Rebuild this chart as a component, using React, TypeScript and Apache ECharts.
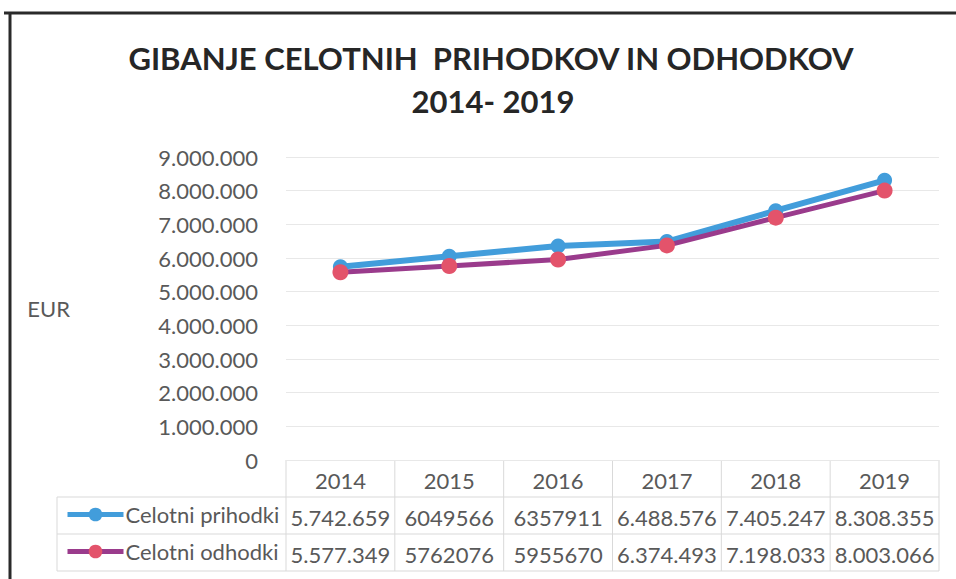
import React, { useEffect, useRef } from "react";
import * as echarts from "echarts";

const years = ["2014", "2015", "2016", "2017", "2018", "2019"];
const prihodki = [5742659, 6049566, 6357911, 6488576, 7405247, 8308355];
const odhodki = [5577349, 5762076, 5955670, 6374493, 7198033, 8003066];
const prihodkiText = ["5.742.659", "6049566", "6357911", "6.488.576", "7.405.247", "8.308.355"];
const odhodkiText = ["5.577.349", "5762076", "5955670", "6.374.493", "7.198.033", "8.003.066"];
const seriesNames = ["Celotni prihodki", "Celotni odhodki"];
const titleLines = ["GIBANJE CELOTNIH  PRIHODKOV IN ODHODKOV", "2014- 2019"];
const yAxisName = "EUR";

const W = 956;
const H = 579;
const GL = 286;
const GR = 939;
const GT = 157;
const GB = 460;
const ROW = 37;
const LEGL = 57;
const FONT = "Lato, 'Open Sans', sans-serif";
const TXT = "#595959";
const BORDER = "#d9d9d9";
const FS = 22;

function fmt(v: number): string {
  return String(Math.round(v)).replace(/\B(?=(\d{3})+(?!\d))/g, ".");
}

export default function App() {
  const ref = useRef<HTMLDivElement>(null);
  useEffect(() => {
    if (!ref.current) return;
    const chart = echarts.init(ref.current, undefined, { renderer: "svg" });
    const colW = (GR - GL) / years.length;
    const lines: any[] = [];
    const ln = (x1: number, y1: number, x2: number, y2: number) =>
      lines.push({ type: "line", shape: { x1, y1, x2, y2 }, style: { stroke: BORDER, lineWidth: 1 }, silent: true });
    ln(GL, GB + ROW, GR, GB + ROW);
    ln(LEGL, GB + ROW, GL, GB + ROW);
    ln(LEGL, GB + 2 * ROW, GR, GB + 2 * ROW);
    ln(LEGL, GB + 3 * ROW, GR, GB + 3 * ROW);
    ln(LEGL, GB + ROW, LEGL, GB + 3 * ROW);
    for (let i = 0; i <= years.length; i++) {
      const x = GL + i * colW;
      ln(x, GB, x, GB + 3 * ROW);
    }
    const legendBase = {
      orient: "horizontal",
      left: 65,
      padding: 0,
      itemWidth: 56,
      itemHeight: 17,
      itemGap: 0,
      lineStyle: { width: 5 },
      textStyle: { fontFamily: FONT, fontSize: FS, color: TXT, padding: [0, 0, 0, -3] },
    };
    const titleStyle = { fontFamily: FONT, fontWeight: "bold", fontSize: 31, color: "#262626" };
    chart.setOption({
      animation: false,
      backgroundColor: "#ffffff",
      textStyle: { fontFamily: FONT },
      title: [
        { text: titleLines[0], left: 486, top: 37, textAlign: "center", textStyle: titleStyle },
        { text: titleLines[1], left: 488, top: 80, textAlign: "center", textStyle: titleStyle },
      ],
      legend: [
        { ...legendBase, top: GB + ROW * 1.5 - 12, data: [seriesNames[0]] },
        { ...legendBase, top: GB + ROW * 2.5 - 12, data: [seriesNames[1]] },
      ],
      grid: { left: GL, right: W - GR, top: GT, bottom: H - GB, containLabel: false },
      xAxis: {
        type: "category",
        data: years,
        boundaryGap: true,
        axisLine: { show: false },
        axisTick: { show: false },
        splitLine: { show: false },
        axisLabel: {
          margin: 2,
          interval: 0,
          formatter: (v: string, i: number) => `{a|${v}}\n{a|${prihodkiText[i]}}\n{a|${odhodkiText[i]}}`,
          rich: { a: { fontFamily: FONT, fontSize: FS, color: TXT, lineHeight: ROW, align: "center" } },
        },
      },
      yAxis: {
        type: "value",
        min: 0,
        max: 9000000,
        interval: 1000000,
        name: yAxisName,
        nameLocation: "middle",
        nameRotate: 0,
        nameGap: 216,
        nameTextStyle: { fontFamily: FONT, fontSize: FS, color: TXT },
        axisLine: { show: false },
        axisTick: { show: false },
        axisLabel: { margin: 28, fontFamily: FONT, fontSize: FS, color: TXT, formatter: (v: number) => fmt(v) },
        splitLine: { lineStyle: { color: "#e8e8e8", width: 1 } },
      },
      series: [
        {
          name: seriesNames[0],
          type: "line",
          data: prihodki,
          symbol: "circle",
          symbolSize: 15,
          itemStyle: { color: "#429ddb" },
          lineStyle: { color: "#429ddb", width: 6 },
          z: 2,
        },
        {
          name: seriesNames[1],
          type: "line",
          data: odhodki,
          symbol: "circle",
          symbolSize: 16,
          itemStyle: { color: "#e3536b" },
          lineStyle: { color: "#9a3b8c", width: 5 },
          z: 3,
        },
      ],
      graphic: [
        ...lines,
        { type: "line", shape: { x1: 4, y1: 13, x2: W, y2: 13 }, style: { stroke: "#2a2a2a", lineWidth: 3 }, silent: true },
        { type: "line", shape: { x1: 10, y1: 12, x2: 10, y2: H }, style: { stroke: "#2a2a2a", lineWidth: 3 }, silent: true },
      ],
    });
    return () => chart.dispose();
  }, []);
  return <div ref={ref} style={{ position: "fixed", left: 0, top: 0, width: W, height: H }} />;
}
